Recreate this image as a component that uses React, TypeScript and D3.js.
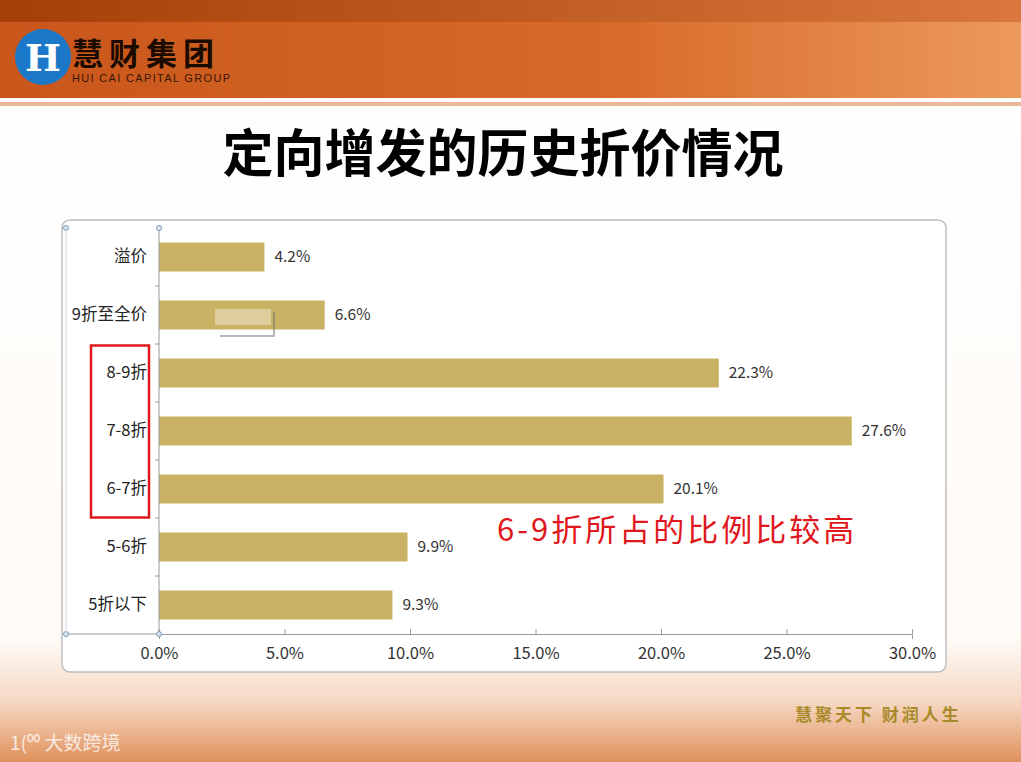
import React, { useEffect, useRef } from 'react';
import * as d3 from 'd3';

const categories = ['溢价', '9折至全价', '8-9折', '7-8折', '6-7折', '5-6折', '5折以下'];
const values = [4.2, 6.6, 22.3, 27.6, 20.1, 9.9, 9.3];
const xTicks = [0, 5, 10, 15, 20, 25, 30];
const highlighted = ['8-9折', '7-8折', '6-7折'];

const W = 1021;
const H = 762;
const FONT = '"Noto Sans CJK SC", "Noto Sans", sans-serif';

const App: React.FC = () => {
  const svgRef = useRef<SVGSVGElement>(null);

  useEffect(() => {
    if (!svgRef.current) return;
    const svg = d3.select(svgRef.current);
    svg.selectAll('*').remove();

    const defs = svg.append('defs');
    const bg = defs.append('linearGradient').attr('id', 'bg').attr('x1', 0).attr('y1', 0).attr('x2', 0).attr('y2', 1);
    bg.append('stop').attr('offset', '0%').attr('stop-color', '#ffffff');
    bg.append('stop').attr('offset', '84%').attr('stop-color', '#fefaf6');
    bg.append('stop').attr('offset', '92%').attr('stop-color', '#f6d9c4');
    bg.append('stop').attr('offset', '100%').attr('stop-color', '#e0915c');

    const head = defs.append('linearGradient').attr('id', 'head').attr('x1', 0).attr('y1', 0).attr('x2', 1).attr('y2', 0);
    head.append('stop').attr('offset', '0%').attr('stop-color', '#c9561b');
    head.append('stop').attr('offset', '60%').attr('stop-color', '#d86a2a');
    head.append('stop').attr('offset', '100%').attr('stop-color', '#ec9a5c');

    const top = defs.append('linearGradient').attr('id', 'top').attr('x1', 0).attr('y1', 0).attr('x2', 1).attr('y2', 0);
    top.append('stop').attr('offset', '0%').attr('stop-color', '#a53f07');
    top.append('stop').attr('offset', '100%').attr('stop-color', '#d9773c');

    // background
    svg.append('rect').attr('width', W).attr('height', H).attr('fill', 'url(#bg)');
    svg.append('rect').attr('width', W).attr('height', 98).attr('fill', 'url(#head)');
    svg.append('rect').attr('width', W).attr('height', 22).attr('fill', 'url(#top)');
    svg.append('rect').attr('y', 98).attr('width', W).attr('height', 4).attr('fill', '#ffffff');
    svg.append('rect').attr('y', 102).attr('width', W).attr('height', 4).attr('fill', '#e8b898');

    // logo
    svg.append('circle').attr('cx', 43).attr('cy', 57).attr('r', 28).attr('fill', '#1b78c8');
    svg.append('text').attr('x', 43).attr('y', 71).attr('text-anchor', 'middle')
      .attr('font-family', '"DejaVu Serif", serif').attr('font-weight', 700).attr('font-size', 38)
      .attr('fill', '#ffffff').text('H');
    svg.append('text').attr('x', 72).attr('y', 65).attr('font-family', FONT).attr('font-weight', 700)
      .attr('font-size', 31).attr('fill', '#1a0a00').attr('letter-spacing', 6).text('慧财集团');
    svg.append('text').attr('x', 72).attr('y', 82).attr('font-family', '"Liberation Sans", Arial, sans-serif')
      .attr('font-size', 11).attr('fill', '#3a1500').attr('textLength', 158).text('HUI CAI CAPITAL GROUP');

    // title
    svg.append('text').attr('x', 503).attr('y', 172).attr('text-anchor', 'middle')
      .attr('font-family', FONT).attr('font-weight', 700).attr('font-size', 51).attr('fill', '#000')
      .text('定向增发的历史折价情况');

    // chart frame
    svg.append('rect').attr('x', 62).attr('y', 220).attr('width', 884).attr('height', 452)
      .attr('rx', 8).attr('fill', '#ffffff').attr('stroke', '#bdbdbd').attr('stroke-width', 1.5);

    const x = d3.scaleLinear().domain([0, 30]).range([159, 912]);
    const y = d3.scaleBand<string>().domain(categories).range([228, 634]).paddingInner(0.5).paddingOuter(0.25);

    const g = svg.append('g');
    g.selectAll('rect.bar').data(categories).join('rect').attr('class', 'bar')
      .attr('x', x(0)).attr('y', (d) => y(d)!)
      .attr('width', (_d, i) => x(values[i]) - x(0)).attr('height', y.bandwidth())
      .attr('fill', '#c9b263');

    g.selectAll('text.val').data(categories).join('text').attr('class', 'val')
      .attr('x', (_d, i) => x(values[i]) + 10).attr('y', (d) => y(d)! + y.bandwidth() / 2 + 5)
      .attr('font-family', FONT).attr('font-size', 15.5).attr('fill', '#333').text((_d, i) => `${values[i].toFixed(1)}%`);

    // x axis
    const xAxis = svg.append('g').attr('transform', 'translate(0,634)')
      .call(d3.axisBottom(x).tickValues(xTicks).tickSize(5).tickFormat((d) => `${(+d).toFixed(1)}%`));
    xAxis.select('.domain').attr('stroke', '#9a9a9a');
    xAxis.selectAll('line').attr('stroke', '#9a9a9a').attr('y1', -5).attr('y2', 0);
    xAxis.selectAll('text').attr('font-family', FONT).attr('font-size', 16.5).attr('fill', '#333').attr('dy', '1.05em');
    svg.append('line').attr('x1', 66).attr('x2', 159).attr('y1', 634).attr('y2', 634).attr('stroke', '#9a9a9a');

    // y axis
    const yAxis = svg.append('g').attr('transform', 'translate(159,0)')
      .call(d3.axisLeft(y).tickSize(0).tickPadding(12));
    yAxis.select('.domain').attr('stroke', '#9a9a9a').attr('d', 'M0,228V634');
    yAxis.selectAll('text').attr('font-family', FONT).attr('font-size', 16.5).attr('fill', '#222');
    const step = y.step();
    svg.append('g').selectAll('line').data(d3.range(1, categories.length)).join('line')
      .attr('x1', 155).attr('x2', 159)
      .attr('y1', (i) => y(categories[i])! - (step - y.bandwidth()) / 2)
      .attr('y2', (i) => y(categories[i])! - (step - y.bandwidth()) / 2)
      .attr('stroke', '#9a9a9a');

    // selection handles
    [[66, 228], [159, 228], [66, 634], [159, 634]].forEach(([cx, cy]) => {
      svg.append('circle').attr('cx', cx).attr('cy', cy).attr('r', 2.5)
        .attr('fill', '#dbe6f0').attr('stroke', '#7a9ab8').attr('stroke-width', 1);
    });
    svg.append('line').attr('x1', 66).attr('x2', 66).attr('y1', 228).attr('y2', 634).attr('stroke', '#d0d8e0');

    // faint artifact
    svg.append('path').attr('d', 'M220,336 L274,336 L274,312').attr('fill', 'none')
      .attr('stroke', '#777').attr('stroke-width', 1.5).attr('opacity', 0.7);
    svg.append('rect').attr('x', 215).attr('y', 309).attr('width', 56).attr('height', 16)
      .attr('fill', '#e8dcb8').attr('opacity', 0.7);

    // highlight
    const hl0 = y(highlighted[0])!;
    const hl1 = y(highlighted[highlighted.length - 1])! + y.bandwidth();
    svg.append('rect').attr('x', 91).attr('y', hl0 - 13).attr('width', 58).attr('height', hl1 - hl0 + 27)
      .attr('fill', 'none').attr('stroke', '#e0171c').attr('stroke-width', 2.5);

    svg.append('text').attr('x', 497).attr('y', 541).attr('font-family', FONT).attr('font-size', 31)
      .attr('fill', '#e0171c').attr('letter-spacing', 3).text('6-9折所占的比例比较高');

    // footer
    svg.append('text').attr('x', 795).attr('y', 721).attr('font-family', FONT).attr('font-weight', 700)
      .attr('font-size', 17).attr('fill', '#a88a2a').attr('letter-spacing', 3).text('慧聚天下 财润人生');
    svg.append('text').attr('x', 10).attr('y', 750).attr('font-family', FONT)
      .attr('font-size', 19).attr('fill', '#ffffff').attr('opacity', 0.75).text('1(⁰⁰ 大数跨境');
  }, []);

  return <svg ref={svgRef} width={W} height={H} style={{ position: 'absolute', left: 0, top: 0 }} />;
};

export default App;
